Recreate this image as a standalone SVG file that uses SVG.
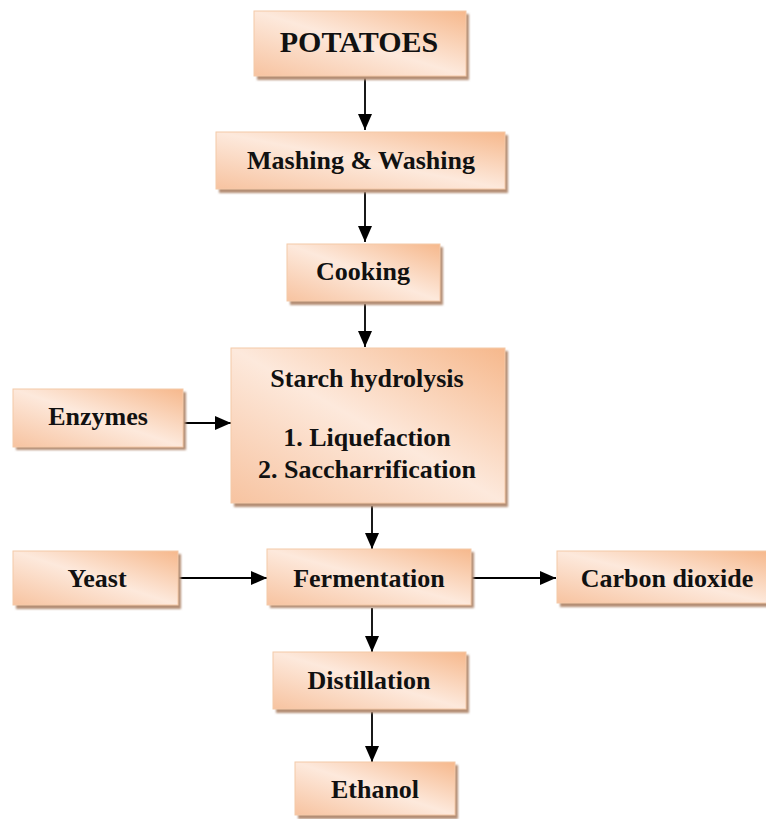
<svg xmlns="http://www.w3.org/2000/svg" width="766" height="819" viewBox="0 0 766 819">
  <defs>
    <linearGradient id="boxFill" x1="1" y1="0" x2="0" y2="1">
      <stop offset="0" stop-color="#f6b88c"/>
      <stop offset="0.5" stop-color="#fde9dc"/>
      <stop offset="1" stop-color="#f7c3a0"/>
    </linearGradient>
    <filter id="soft" x="-10%" y="-10%" width="120%" height="130%">
      <feGaussianBlur stdDeviation="1"/>
    </filter>
    <marker id="arrow" viewBox="0 0 16 14" refX="16" refY="7" markerWidth="16" markerHeight="14" markerUnits="userSpaceOnUse" orient="auto">
      <path d="M0,0 L16,7 L0,14 Z" fill="#000"/>
    </marker>
  </defs>
  <style>
    .shadow { fill: #b48e74; filter: url(#soft); }
    .box { fill: url(#boxFill); stroke: #f4c9a8; stroke-width: 1; }
    .label { font-family: "Liberation Serif", "Times New Roman", serif; font-weight: bold; font-size: 26px; fill: #111; text-anchor: middle; }
    .label.title { font-size: 30px; }
    .conn { stroke: #000; stroke-width: 1.8; fill: none; marker-end: url(#arrow); }
  </style>
  <rect width="766" height="819" fill="#fff"/>

  <g id="connectors">
    <line class="conn" x1="365" y1="78" x2="365" y2="130"/>
    <line class="conn" x1="365" y1="192" x2="365" y2="242"/>
    <line class="conn" x1="365" y1="304" x2="365" y2="347"/>
    <line class="conn" x1="183" y1="423" x2="231" y2="423"/>
    <line class="conn" x1="372" y1="506" x2="372" y2="549"/>
    <line class="conn" x1="178" y1="578" x2="267" y2="578"/>
    <line class="conn" x1="471" y1="578" x2="556" y2="578"/>
    <line class="conn" x1="372" y1="608" x2="372" y2="652"/>
    <line class="conn" x1="372" y1="712" x2="372" y2="762"/>
  </g>

  <g id="potatoes">
    <rect class="shadow" x="257" y="14" width="212" height="66"/>
    <rect class="box" x="254" y="11" width="212" height="65"/>
    <text class="label title" x="359" y="52">POTATOES</text>
  </g>

  <g id="mashing">
    <rect class="shadow" x="219" y="135" width="289" height="58"/>
    <rect class="box" x="216" y="132" width="289" height="57"/>
    <text class="label" x="361" y="169">Mashing &amp; Washing</text>
  </g>

  <g id="cooking">
    <rect class="shadow" x="290" y="247" width="153" height="58"/>
    <rect class="box" x="287" y="244" width="153" height="57"/>
    <text class="label" x="363" y="280">Cooking</text>
  </g>

  <g id="starch">
    <rect class="shadow" x="234" y="351" width="274" height="156"/>
    <rect class="box" x="231" y="348" width="274" height="155"/>
    <text class="label" x="367" y="387">Starch hydrolysis</text>
    <text class="label" x="367" y="446">1. Liquefaction</text>
    <text class="label" x="367" y="478">2. Saccharrification</text>
  </g>

  <g id="enzymes">
    <rect class="shadow" x="16" y="392" width="170" height="58"/>
    <rect class="box" x="13" y="389" width="170" height="58"/>
    <text class="label" x="98" y="425">Enzymes</text>
  </g>

  <g id="yeast">
    <rect class="shadow" x="16" y="554" width="165" height="55"/>
    <rect class="box" x="13" y="551" width="165" height="54"/>
    <text class="label" x="97" y="587">Yeast</text>
  </g>

  <g id="fermentation">
    <rect class="shadow" x="270" y="552" width="204" height="56"/>
    <rect class="box" x="267" y="549" width="204" height="56"/>
    <text class="label" x="369" y="587">Fermentation</text>
  </g>

  <g id="carbon-dioxide">
    <rect class="shadow" x="560" y="554" width="210" height="53"/>
    <rect class="box" x="557" y="551" width="210" height="52"/>
    <text class="label" x="667" y="587">Carbon dioxide</text>
  </g>

  <g id="distillation">
    <rect class="shadow" x="276" y="655" width="193" height="58"/>
    <rect class="box" x="273" y="652" width="193" height="57"/>
    <text class="label" x="369" y="689">Distillation</text>
  </g>

  <g id="ethanol">
    <rect class="shadow" x="298" y="765" width="160" height="54"/>
    <rect class="box" x="295" y="762" width="160" height="53"/>
    <text class="label" x="375" y="798">Ethanol</text>
  </g>
</svg>
